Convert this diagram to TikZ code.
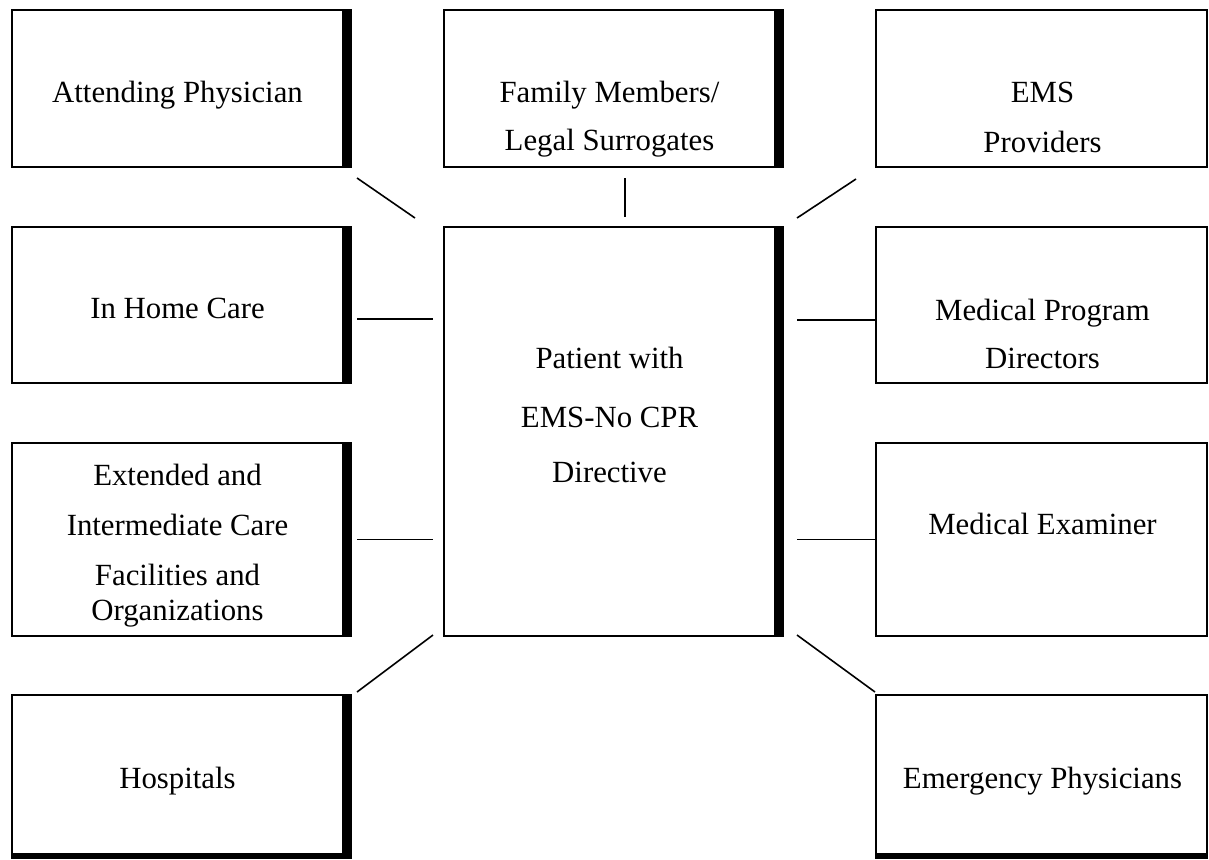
\documentclass[tikz,border=0pt]{standalone}
\usepackage{fontspec}
\setmainfont{Liberation Serif}
\usetikzlibrary{calc}
\tikzset{
  box/.style={draw,line width=1.3pt,inner sep=0pt,outer sep=0pt,anchor=north west},
  txt/.style={font=\fontsize{15.4}{18}\selectfont,anchor=base,inner sep=0pt},
  link/.style={line width=0.8pt}
}
\begin{document}
\begin{tikzpicture}[x=0.5pt,y=-0.5pt]
            \useasboundingbox (0,0) rectangle (1209,859);
            \node[box,minimum width=167.5pt,minimum height=78.5pt] (att) at (12,10) {};
            \node[box,minimum width=167.5pt,minimum height=78.5pt] (fam) at (444,10) {};
            \node[box,minimum width=165.5pt,minimum height=78.5pt] (ems) at (876,10) {};
            \node[box,minimum width=167.5pt,minimum height=78pt] (home) at (12,227) {};
            \node[box,minimum width=167.5pt,minimum height=204.5pt] (pat) at (444,227) {};
            \node[box,minimum width=165.5pt,minimum height=78pt] (mpd) at (876,227) {};
            \node[box,minimum width=167.5pt,minimum height=96.5pt] (ext) at (12,443) {};
            \node[box,minimum width=165.5pt,minimum height=96.5pt] (mex) at (876,443) {};
            \node[box,minimum width=167.5pt,minimum height=80.5pt] (hosp) at (12,695) {};
            \node[box,minimum width=165.5pt,minimum height=80.5pt] (emp) at (876,695) {};
            \foreach \b in {att,fam,home,pat,ext,hosp}
                \fill ([shift={(-5,-1.3)}]\b.north east) rectangle ([shift={(5,1.3)}]\b.south east);
            \fill ([shift={(-1.3,-3)}]hosp.south west) rectangle ([shift={(5,3)}]hosp.south east);
            \fill ([shift={(-1.3,-3)}]emp.south west) rectangle ([shift={(1.3,3)}]emp.south east);
            \node[txt] (att-t) at ([shift={(-2,92)}]att.north) {Attending Physician};
            \node[txt] (fam-t1) at ([shift={(-2,92)}]fam.north) {Family Members/};
            \node[txt] (fam-t2) at ([shift={(-2,140)}]fam.north) {Legal Surrogates};
            \node[txt] (ems-t1) at ([shift={(1,92)}]ems.north) {EMS};
            \node[txt] (ems-t2) at ([shift={(1,142)}]ems.north) {Providers};
            \node[txt] (home-t) at ([shift={(-2,91)}]home.north) {In Home Care};
            \node[txt] (pat-t1) at ([shift={(-2,141)}]pat.north) {Patient with};
            \node[txt] (pat-t2) at ([shift={(-2,200)}]pat.north) {EMS-No CPR};
            \node[txt] (pat-t3) at ([shift={(-2,255)}]pat.north) {Directive};
            \node[txt] (mpd-t1) at ([shift={(1,93)}]mpd.north) {Medical Program};
            \node[txt] (mpd-t2) at ([shift={(1,141)}]mpd.north) {Directors};
            \node[txt] (ext-t1) at ([shift={(-2,42)}]ext.north) {Extended and};
            \node[txt] (ext-t2) at ([shift={(-2,92)}]ext.north) {Intermediate Care};
            \node[txt] (ext-t3) at ([shift={(-2,142)}]ext.north) {Facilities and};
            \node[txt] (ext-t4) at ([shift={(-2,177)}]ext.north) {Organizations};
            \node[txt] (mex-t) at ([shift={(1,91)}]mex.north) {Medical Examiner};
            \node[txt] (hosp-t) at ([shift={(-2,93)}]hosp.north) {Hospitals};
            \node[txt] (emp-t) at ([shift={(1,93)}]emp.north) {Emergency Physicians};
            \draw[link] ([shift={(10,11)}]att.south east) -- ([shift={(-29,-9)}]pat.north west);
            \draw[link] ([shift={(13.5,11)}]fam.south) -- ([shift={(13.5,-10)}]pat.north);
            \draw[link] ([shift={(-20,12)}]ems.south west) -- ([shift={(18,-9)}]pat.north east);
            \draw[link] ([shift={(10,14)}]home.east) -- ($(home.east -| pat.west)+(-11,14)$);
            \draw[link] ($(mpd.west -| pat.east)+(18,15)$) -- ([shift={(0,15)}]mpd.west);
            \draw[link] ([shift={(10,0)}]ext.east) -- ($(ext.east -| pat.west)+(-11,0)$);
            \draw[link] ($(mex.west -| pat.east)+(18,0)$) -- (mex.west);
            \draw[link] ([shift={(-11,-1)}]pat.south west) -- ([shift={(10,-3)}]hosp.north east);
            \draw[link] ([shift={(18,-1)}]pat.south east) -- ([shift={(-1,-3)}]emp.north west);
        \end{tikzpicture}
\end{document}
